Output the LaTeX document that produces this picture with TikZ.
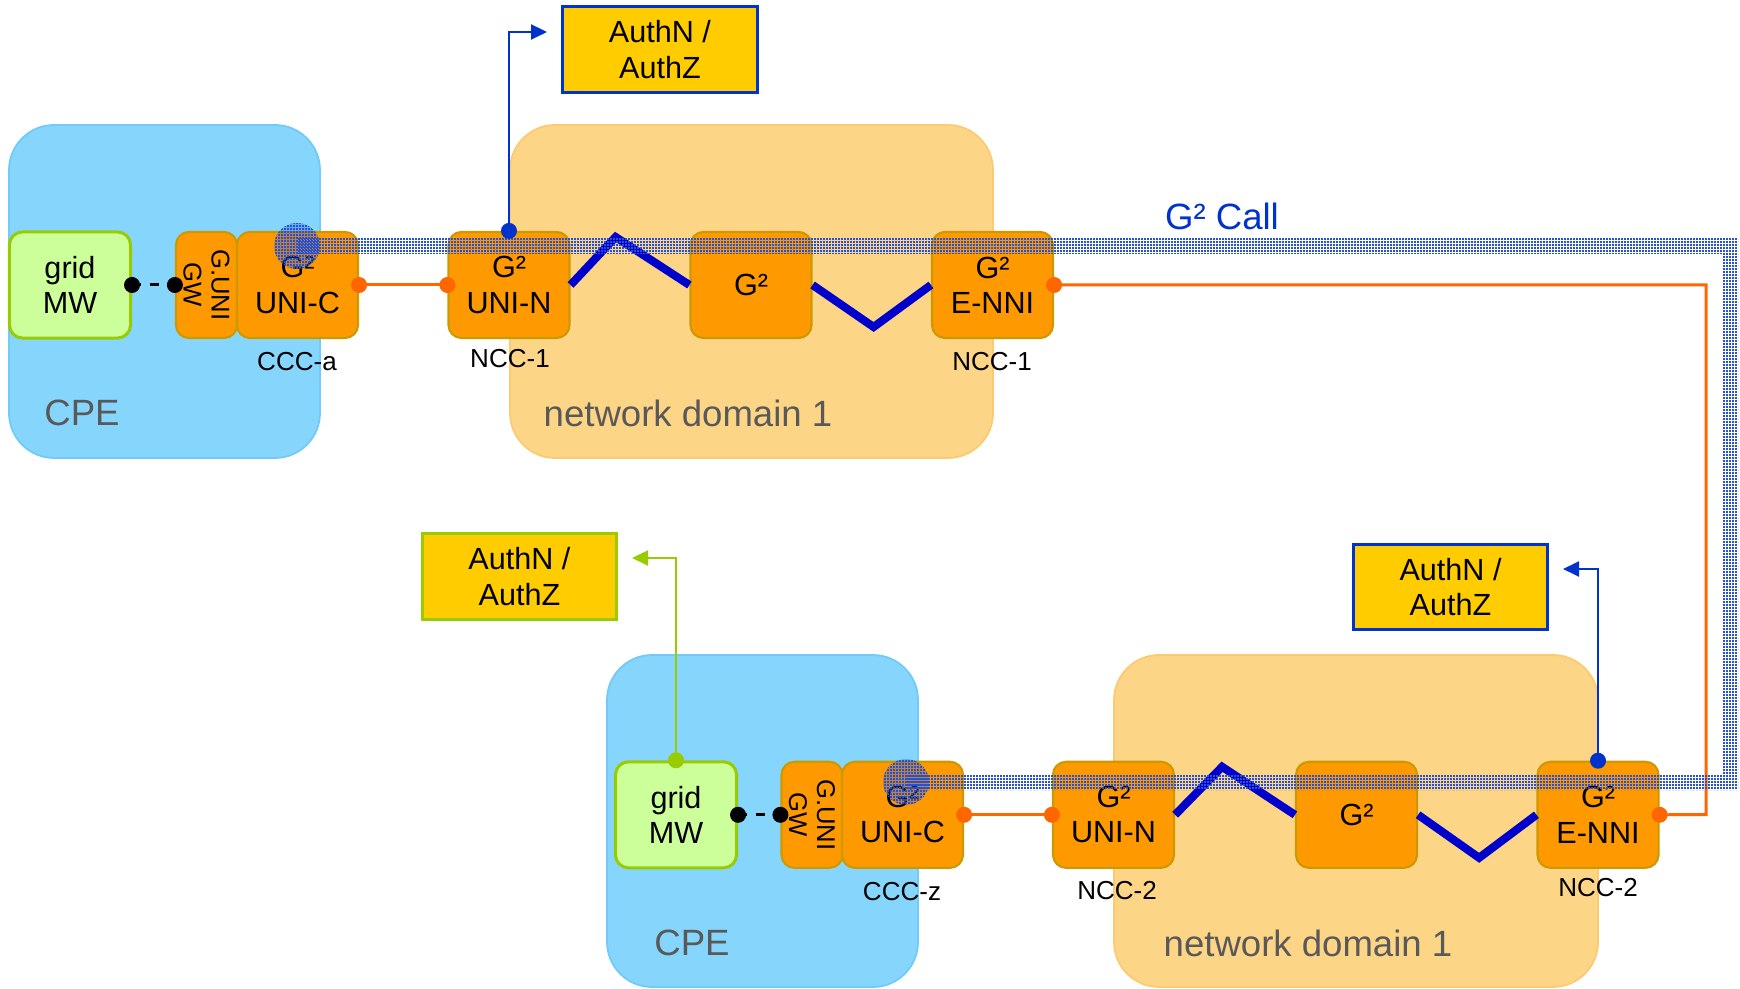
\documentclass[tikz,border=0pt]{standalone}
\usepackage{fontspec}
\setmainfont{Liberation Sans}
\usetikzlibrary{arrows.meta,patterns}

\definecolor{cpeblue}{RGB}{133,213,253}
\definecolor{cpeedge}{RGB}{112,202,250}
\definecolor{domorange}{RGB}{253,213,135}
\definecolor{domedge}{RGB}{252,202,112}
\definecolor{gorange}{RGB}{255,153,0}
\definecolor{gedge}{RGB}{204,153,0}
\definecolor{gridgreen}{RGB}{204,255,153}
\definecolor{gridedge}{RGB}{153,204,0}
\definecolor{authyellow}{RGB}{255,204,0}
\definecolor{authblue}{RGB}{0,51,204}
\definecolor{callblue}{RGB}{40,80,210}
\definecolor{linkorange}{RGB}{255,102,0}
\definecolor{zigblue}{RGB}{0,0,204}
\definecolor{areagrey}{RGB}{89,89,89}

% fine dotted mesh for the call band
\pgfdeclarepatternformonly{callmesh}{\pgfpointorigin}{\pgfqpoint{0.85pt}{0.85pt}}{\pgfqpoint{0.85pt}{0.85pt}}{
	\pgfpathrectangle{\pgfpointorigin}{\pgfqpoint{0.5pt}{0.5pt}}
	\pgfusepath{fill}
}

\tikzset{
	g2box/.style={rectangle,rounded corners=0.13cm,draw=gedge,fill=gorange,line width=0.6pt,
		minimum width=1.21cm,minimum height=1.06cm,align=center,inner sep=0pt,
		font=\fontsize{8.7}{10}\selectfont},
	gwbox/.style={g2box,rotate=-90,minimum width=1.06cm,minimum height=0.61cm,
		font=\fontsize{7.3}{8}\selectfont},
	gridbox/.style={g2box,draw=gridedge,fill=gridgreen,line width=0.85pt},
	authbox/.style={rectangle,draw=authblue,fill=authyellow,line width=0.85pt,
		minimum width=1.94cm,minimum height=0.85cm,align=center,inner sep=0pt,
		font=\fontsize{8.7}{10}\selectfont},
	cpearea/.style={rounded corners=0.45cm,fill=cpeblue,draw=cpeedge,line width=0.5pt},
	domarea/.style={rounded corners=0.45cm,fill=domorange,draw=domedge,line width=0.5pt},
	arealabel/.style={text=areagrey,font=\fontsize{10.4}{12}\selectfont},
	tag/.style={font=\fontsize{7.4}{9}\selectfont},
	orangelink/.style={draw=linkorange,line width=0.85pt},
	zigzag/.style={draw=zigblue,line width=2.3pt},
	authlink/.style={draw=authblue,line width=0.6pt,-{Triangle[length=0.16cm,width=0.15cm]}},
	callband/.style={pattern=callmesh,pattern color=callblue},
	callspot/.style={fill=callblue,fill opacity=0.3},
}

\begin{document}
\begin{tikzpicture}[x=0.01cm,y=-0.01cm]
		\useasboundingbox (0,0) rectangle (1740,989);
		
		% domains
		\draw[cpearea] (9,125) rectangle (320,458);
		\draw[domarea] (510,125) rectangle (993,458);
		\draw[cpearea] (607,655) rectangle (918,987);
		\draw[domarea] (1114,655) rectangle (1598,987);
		\node[arealabel] (cpeA) at (82,413) {CPE};
		\node[arealabel] (domA) at (688,413) {network domain 1};
		\node[arealabel] (cpeZ) at (692,943) {CPE};
		\node[arealabel] (domZ) at (1308,943) {network domain 1};
		
		% upper row
		\node[gridbox] (gridA) at (70,285) {grid\\MW};
		\node[gwbox] (gwA) at (206.5,285) {G.UNI\\GW};
		\node[g2box] (unicA) at (297.5,285) {G²\\UNI-C};
		\node[g2box] (uninA) at (509,285) {G²\\UNI-N};
		\node[g2box] (g2A) at (751,285) {G²};
		\node[g2box] (enniA) at (992.5,285) {G²\\E-NNI};
		\node[tag] (cccA) at (297,362) {CCC-a};
		\node[tag] (nccA) at (510,359) {NCC-1};
		\node[tag] (nccB) at (992,362) {NCC-1};
		
		% lower row
		\begin{scope}[yshift=-5.295cm]
			\node[gridbox] (gridZ) at (676,285) {grid\\MW};
			\node[gwbox] (gwZ) at (812,285) {G.UNI\\GW};
			\node[g2box] (unicZ) at (902.5,285) {G²\\UNI-C};
			\node[g2box] (uninZ) at (1113.5,285) {G²\\UNI-N};
			\node[g2box] (g2Z) at (1356.5,285) {G²};
			\node[g2box] (enniZ) at (1598,285) {G²\\E-NNI};
			\node[tag] (cccZ) at (902,362) {CCC-z};
			\node[tag] (nccC) at (1117,361) {NCC-2};
			\node[tag] (nccD) at (1598,358) {NCC-2};
		\end{scope}
		
		\node[authbox] (authA) at (660,49.5) {AuthN /\\AuthZ};
		\node[authbox,draw=gridedge] (authG) at (519.5,576.5) {AuthN /\\AuthZ};
		\node[authbox] (authZ) at (1450.5,587) {AuthN /\\AuthZ};
		
		% links
		\draw[orangelink] (unicA.east) -- (uninA.west);
		\draw[orangelink] (unicZ.east) -- (uninZ.west);
		\coordinate (turn) at (1706,814.5);
		\draw[orangelink] (enniA.east) -| (turn) -- (enniZ.east);
		\draw[line width=0.85pt,dash pattern=on 2.6pt off 2.4pt] (gridA.east) -- (gwA.south);
		\draw[line width=0.85pt,dash pattern=on 2.6pt off 2.4pt] (gridZ.east) -- (gwZ.south);
		
		\draw[zigzag] (uninA.east) -- ++(45,-48) -- (g2A.west);
		\draw[zigzag] (g2A.east) -- ++(61,42) -- (enniA.west);
		\draw[zigzag] (uninZ.east) -- ++(47,-48) -- (g2Z.west);
		\draw[zigzag] (g2Z.east) -- ++(61,43) -- (enniZ.west);
		
		% auth requests
		\coordinate (tipA) at (547,32);
		\coordinate (tipG) at (632,558);
		\coordinate (tipZ) at (1563,569);
		\draw[authlink] (uninA.north) |- (tipA);
		\draw[authlink,draw=gridedge] (gridZ.north) |- (tipG);
		\draw[authlink] (enniZ.north) |- (tipZ);
		
		% the call
		\coordinate (callA) at (297,246);
		\coordinate (callZ) at (906,782);
		\fill[callband] (297,238) -- (1738,238) -- (1738,790) -- (906,790) -- (906,774)
			-- (1722,774) -- (1722,254) -- (297,254) -- cycle;
		\fill[callspot] (callA) circle (0.23cm);
		\fill[callspot] (callZ) circle (0.23cm);
		\fill[callband] (callA) circle (0.23cm);
		\fill[callband] (callZ) circle (0.23cm);
		\node[text=authblue,font=\fontsize{10.4}{12}\selectfont] (calllbl) at (1222,216) {G² Call};
		
		% end points
		\foreach \p in {unicA.east,uninA.west,enniA.east,unicZ.east,uninZ.west,enniZ.east}
			\fill[linkorange] (\p) circle (0.08cm);
		\foreach \p in {gridA.east,gwA.south,gridZ.east,gwZ.south}
			\fill[black] (\p) circle (0.08cm);
		\fill[authblue] (uninA.north) circle (0.08cm);
		\fill[authblue] (enniZ.north) circle (0.08cm);
		\fill[gridedge] (gridZ.north) circle (0.08cm);
	\end{tikzpicture}
\end{document}
